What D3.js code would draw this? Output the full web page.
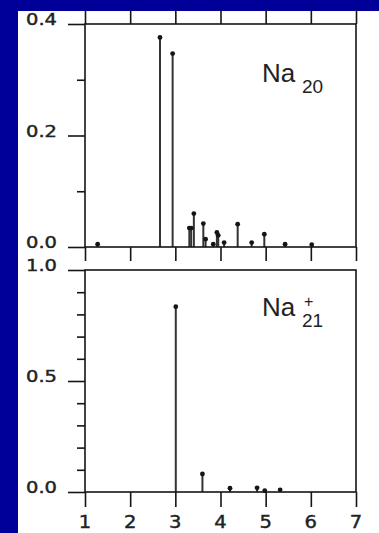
<!DOCTYPE html>
<html>
<head>
<meta charset="utf-8">
<script src="https://cdn.jsdelivr.net/npm/d3@7"></script>
<style>
  html, body { margin: 0; padding: 0; background: #000099; }
  svg { display: block; }
</style>
</head>
<body>
<svg width="379" height="533"></svg>
<script>
// peak positions / heights
var na20X = [1.28, 2.66, 2.94, 3.31, 3.35, 3.41, 3.62, 3.67, 3.84, 3.92, 3.95, 4.08, 4.38, 4.69, 4.97, 5.43, 6.02];
var na20Y = [0.005, 0.376, 0.347, 0.034, 0.034, 0.060, 0.042, 0.014, 0.005, 0.026, 0.021, 0.008, 0.041, 0.008, 0.023, 0.005, 0.004];

var na21X = [3.01, 3.60, 4.21, 4.81, 4.98, 5.32];
var na21Y = [0.835, 0.081, 0.017, 0.019, 0.006, 0.010];

var xTicks = [1, 2, 3, 4, 5, 6, 7];
var topMajor = [0, 0.2, 0.4], topMinor = [0.1, 0.3];
var botMajor = [0, 0.5, 1.0], botMinor = [0.1, 0.2, 0.3, 0.4, 0.6, 0.7, 0.8, 0.9];

var svg = d3.select("svg");

// white paper
svg.append("rect").attr("x", 18).attr("y", 11).attr("width", 361).attr("height", 522).attr("fill", "#fff");

var x = d3.scaleLinear().domain([1, 7]).range([85, 356]);
var ink = "#151515";

function panel(opts) {
  var y = d3.scaleLinear().domain(opts.domain).range([opts.y0, opts.y1]);
  var g = svg.append("g");

  // stems
  var data = opts.xs.map(function(d, i) { return {x: d, y: opts.ys[i]}; });
  g.selectAll("line.stem").data(data).enter().append("line")
    .attr("class", "stem")
    .attr("x1", function(d) { return x(d.x); }).attr("x2", function(d) { return x(d.x); })
    .attr("y1", y(0)).attr("y2", function(d) { return y(d.y); })
    .attr("stroke", "#333").attr("stroke-width", 2);
  g.selectAll("circle").data(data).enter().append("circle")
    .attr("cx", function(d) { return x(d.x); })
    .attr("cy", function(d) { return y(d.y); })
    .attr("r", 2.4).attr("fill", ink);

  // frame
  g.append("rect").attr("x", x(1)).attr("y", y(opts.domain[1]))
    .attr("width", x(7) - x(1)).attr("height", y(0) - y(opts.domain[1]))
    .attr("fill", "none").attr("stroke", ink).attr("stroke-width", 1.6);

  // left ticks
  var yAxisMaj = d3.axisLeft(y).tickValues(opts.major).tickSize(17).tickFormat("");
  var yAxisMin = d3.axisLeft(y).tickValues(opts.minor).tickSize(8).tickFormat("");
  [yAxisMaj, yAxisMin].forEach(function(ax) {
    var a = g.append("g").attr("transform", "translate(" + x(1) + ",0)").call(ax);
    a.select(".domain").remove();
    a.selectAll("line").attr("stroke", ink).attr("stroke-width", 1.6);
  });

  // y labels (stretched wide like the scan)
  g.selectAll("text.ylab").data(opts.major).enter().append("text")
    .attr("class", "ylab")
    .attr("transform", function(d) { return "translate(57," + (y(d) + 1) + ") scale(1.3,1)"; })
    .attr("text-anchor", "end")
    .attr("font-family", "DejaVu Sans").attr("font-size", 15)
    .attr("fill", "#222").attr("stroke", "#222").attr("stroke-width", 0.4)
    .text(function(d) { return d3.format(".1f")(d); });

  // x ticks
  if (opts.topTicks) {
    var at = g.append("g").attr("transform", "translate(0," + y(opts.domain[1]) + ")")
      .call(d3.axisTop(x).tickValues(xTicks).tickSize(opts.topTicks).tickFormat(""));
    at.select(".domain").remove();
    at.selectAll("line").attr("stroke", ink).attr("stroke-width", 1.6);
  }
  var ab = g.append("g").attr("transform", "translate(0," + y(0) + ")")
    .call(d3.axisBottom(x).tickValues(xTicks).tickSize(opts.botTicks).tickFormat(""));
  ab.select(".domain").remove();
  ab.selectAll("line").attr("stroke", ink).attr("stroke-width", 1.6);

  if (opts.xLabels) {
    g.selectAll("text.xlab").data(xTicks).enter().append("text")
      .attr("class", "xlab")
      .attr("transform", function(d) { return "translate(" + x(d) + ",528) scale(1.15,1)"; })
      .attr("text-anchor", "middle")
      .attr("font-family", "DejaVu Sans").attr("font-size", 17)
      .attr("fill", "#222").attr("stroke", "#222").attr("stroke-width", 0.4)
      .text(function(d) { return d; });
  }

  // species label
  g.append("text").attr("x", 262).attr("y", opts.labelY)
    .attr("font-family", "Liberation Sans").attr("font-size", 26).attr("fill", "#222")
    .text("Na");
  if (opts.sup) {
    g.append("text").attr("x", 304).attr("y", opts.labelY - 9)
      .attr("font-family", "Liberation Sans").attr("font-size", 16).attr("fill", "#222").text(opts.sup);
  }
  g.append("text").attr("x", 302).attr("y", opts.labelY + 11)
    .attr("font-family", "Liberation Sans").attr("font-size", 19).attr("fill", "#222").text(opts.sub);
}

panel({domain: [0, 0.4], y0: 247, y1: 24, xs: na20X, ys: na20Y,
       major: topMajor, minor: topMinor, topTicks: 14, botTicks: 14,
       labelY: 82, sub: "20"});
panel({domain: [0, 1.0], y0: 492, y1: 270, xs: na21X, ys: na21Y,
       major: botMajor, minor: botMinor, topTicks: 0, botTicks: 15,
       labelY: 316, sub: "21", sup: "+", xLabels: true});
</script>
</body>
</html>
